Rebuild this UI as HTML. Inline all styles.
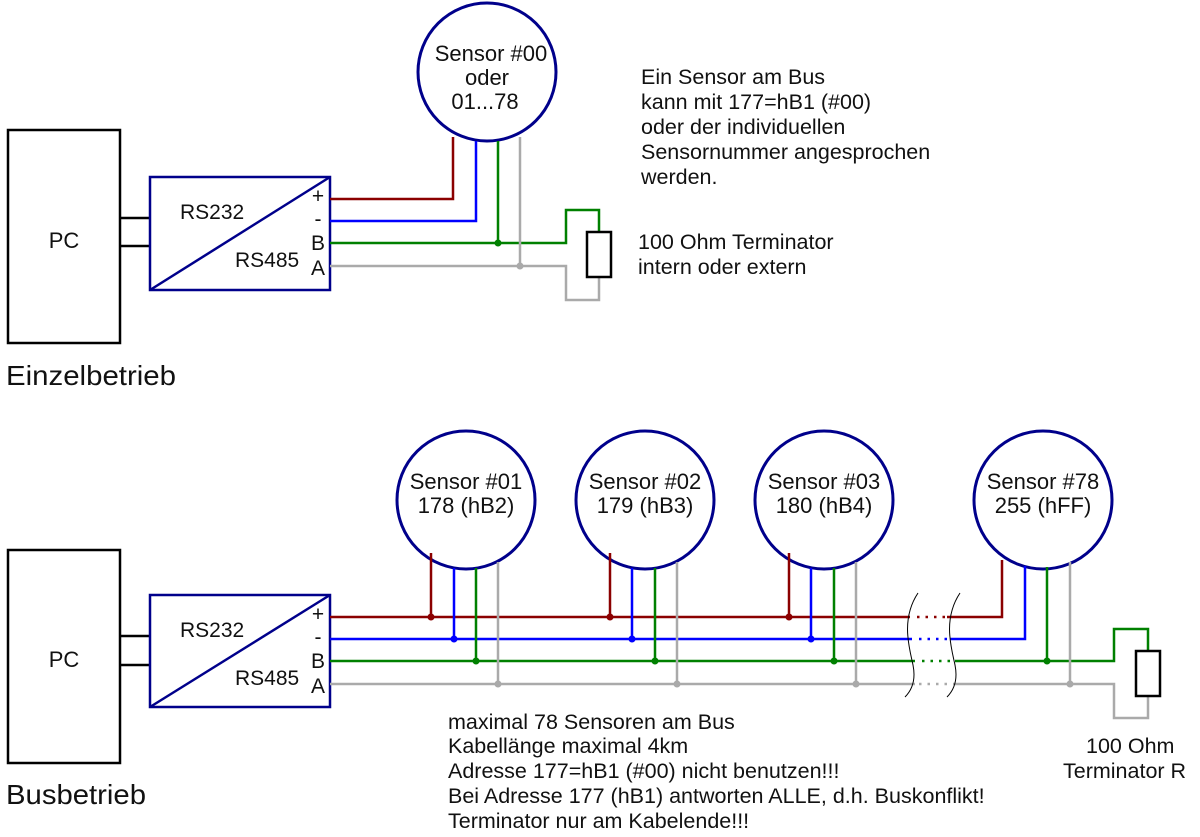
<!DOCTYPE html>
<html><head><meta charset="utf-8"><style>
html,body{margin:0;padding:0;background:#fff;}
svg{display:block;}
text{font-family:"Liberation Sans",sans-serif;fill:#111;}
</style></head><body>
<svg width="1200" height="837" viewBox="0 0 1200 837" xmlns="http://www.w3.org/2000/svg">
<g fill="none" stroke-width="2.5">
<rect x="8" y="130" width="112" height="213" stroke="#000"/>
<line x1="120" y1="218" x2="150" y2="218" stroke="#000"/>
<line x1="120" y1="246" x2="150" y2="246" stroke="#000"/>
<rect x="150" y="177" width="180" height="113" stroke="#00008b"/>
<line x1="150" y1="290" x2="330" y2="177" stroke="#00008b"/>
<circle cx="487" cy="72" r="69" stroke="#00008b" stroke-width="3"/>
<polyline points="330,199 453,199 453,137" stroke="#8b0000"/>
<polyline points="330,221 476,221 476,141" stroke="#0000ff"/>
<polyline points="330,243 566,243 566,210 599,210 599,232" stroke="#008000"/>
<line x1="498" y1="243" x2="498" y2="141" stroke="#008000"/>
<polyline points="330,266 566,266 566,300 599,300 599,277" stroke="#aaa"/>
<line x1="520" y1="266" x2="520" y2="137" stroke="#aaa"/>
<rect x="587" y="232" width="24" height="45" stroke="#000"/>
<rect x="8" y="550" width="112" height="213" stroke="#000"/>
<line x1="120" y1="636" x2="150" y2="636" stroke="#000"/>
<line x1="120" y1="665" x2="150" y2="665" stroke="#000"/>
<rect x="150" y="595" width="180" height="112" stroke="#00008b"/>
<line x1="150" y1="707" x2="330" y2="595" stroke="#00008b"/>
<circle cx="466" cy="500" r="69" stroke="#00008b" stroke-width="3"/>
<circle cx="645" cy="500" r="69" stroke="#00008b" stroke-width="3"/>
<circle cx="824" cy="500" r="69" stroke="#00008b" stroke-width="3"/>
<circle cx="1043" cy="500" r="69" stroke="#00008b" stroke-width="3"/>
<line x1="330" y1="617" x2="910" y2="617" stroke="#8b0000"/>
<line x1="330" y1="639" x2="912" y2="639" stroke="#0000ff"/>
<line x1="330" y1="661" x2="915" y2="661" stroke="#008000"/>
<line x1="330" y1="684" x2="915" y2="684" stroke="#aaa"/>
<line x1="917" y1="617" x2="945" y2="617" stroke="#8b0000" stroke-dasharray="2.5 6"/>
<line x1="919" y1="639" x2="947" y2="639" stroke="#0000ff" stroke-dasharray="2.5 6"/>
<line x1="922" y1="661" x2="950" y2="661" stroke="#008000" stroke-dasharray="2.5 6"/>
<line x1="919" y1="684" x2="950" y2="684" stroke="#aaa" stroke-dasharray="2.5 6"/>
<polyline points="947,617 1002,617 1002,560" stroke="#8b0000"/>
<polyline points="950,639 1025,639 1025,566" stroke="#0000ff"/>
<polyline points="955,661 1114,661 1114,629 1148,629 1148,651" stroke="#008000"/>
<line x1="1047" y1="661" x2="1047" y2="567" stroke="#008000"/>
<polyline points="953,684 1114,684 1114,718 1148,718 1148,696" stroke="#aaa"/>
<line x1="1070" y1="684" x2="1070" y2="562" stroke="#aaa"/>
<rect x="1136" y="651" width="24" height="45" stroke="#000"/>
<line x1="431" y1="617" x2="431" y2="553" stroke="#8b0000"/>
<line x1="454" y1="639" x2="454" y2="568" stroke="#0000ff"/>
<line x1="476" y1="661" x2="476" y2="568" stroke="#008000"/>
<line x1="498" y1="684" x2="498" y2="562" stroke="#aaa"/>
<line x1="610" y1="617" x2="610" y2="553" stroke="#8b0000"/>
<line x1="632" y1="639" x2="632" y2="568" stroke="#0000ff"/>
<line x1="655" y1="661" x2="655" y2="568" stroke="#008000"/>
<line x1="677" y1="684" x2="677" y2="562" stroke="#aaa"/>
<line x1="789" y1="617" x2="789" y2="553" stroke="#8b0000"/>
<line x1="811" y1="639" x2="811" y2="568" stroke="#0000ff"/>
<line x1="834" y1="661" x2="834" y2="568" stroke="#008000"/>
<line x1="856" y1="684" x2="856" y2="562" stroke="#aaa"/>
<path d="M918,593 C900,620 910,650 913,665 C916,680 912,690 905,697" stroke="#000" stroke-width="1"/>
<path d="M960,593 C942,620 952,650 955,665 C958,680 954,690 947,697" stroke="#000" stroke-width="1"/>
</g>
<g>
<circle cx="498" cy="243" r="3.5" fill="#008000"/>
<circle cx="520" cy="266" r="3.5" fill="#aaa"/>
<circle cx="431" cy="617" r="3.5" fill="#8b0000"/>
<circle cx="454" cy="639" r="3.5" fill="#0000ff"/>
<circle cx="476" cy="661" r="3.5" fill="#008000"/>
<circle cx="498" cy="684" r="3.5" fill="#aaa"/>
<circle cx="610" cy="617" r="3.5" fill="#8b0000"/>
<circle cx="632" cy="639" r="3.5" fill="#0000ff"/>
<circle cx="655" cy="661" r="3.5" fill="#008000"/>
<circle cx="677" cy="684" r="3.5" fill="#aaa"/>
<circle cx="789" cy="617" r="3.5" fill="#8b0000"/>
<circle cx="811" cy="639" r="3.5" fill="#0000ff"/>
<circle cx="834" cy="661" r="3.5" fill="#008000"/>
<circle cx="856" cy="684" r="3.5" fill="#aaa"/>
<circle cx="1047" cy="661" r="3.5" fill="#008000"/>
<circle cx="1070" cy="684" r="3.5" fill="#aaa"/>
</g>
<text x="64" y="248" font-size="22" text-anchor="middle">PC</text>
<text x="180" y="219" font-size="21">RS232</text>
<text x="235" y="267" font-size="21">RS485</text>
<g font-size="21" text-anchor="middle">
<text x="318" y="203">+</text><text x="318" y="226">-</text><text x="318" y="250">B</text><text x="318" y="275">A</text>
</g>
<g font-size="22" text-anchor="middle">
<text x="491" y="61">Sensor #00</text>
<text x="487" y="85">oder</text>
<text x="485" y="109">01...78</text>
</g>
<g font-size="21.5">
<text x="641" y="84">Ein Sensor am Bus</text>
<text x="641" y="109">kann mit 177=hB1 (#00)</text>
<text x="641" y="134">oder der individuellen</text>
<text x="641" y="159">Sensornummer angesprochen</text>
<text x="641" y="184">werden.</text>
<text x="638" y="249">100 Ohm Terminator</text>
<text x="638" y="274">intern oder extern</text>
</g>
<text x="6" y="385" font-size="28" textLength="170" lengthAdjust="spacingAndGlyphs">Einzelbetrieb</text>
<text x="64" y="667" font-size="22" text-anchor="middle">PC</text>
<text x="180" y="637" font-size="21">RS232</text>
<text x="235" y="685" font-size="21">RS485</text>
<g font-size="21" text-anchor="middle">
<text x="318" y="621">+</text><text x="318" y="644">-</text><text x="318" y="668">B</text><text x="318" y="693">A</text>
</g>
<g font-size="22" text-anchor="middle">
<text x="466" y="489">Sensor #01</text><text x="466" y="513">178 (hB2)</text>
<text x="645" y="489">Sensor #02</text><text x="645" y="513">179 (hB3)</text>
<text x="824" y="489">Sensor #03</text><text x="824" y="513">180 (hB4)</text>
<text x="1043" y="489">Sensor #78</text><text x="1043" y="513">255 (hFF)</text>
</g>
<g font-size="21.5">
<text x="448" y="729">maximal 78 Sensoren am Bus</text>
<text x="448" y="753">Kabellänge maximal 4km</text>
<text x="448" y="778">Adresse 177=hB1 (#00) nicht benutzen!!!</text>
<text x="448" y="803">Bei Adresse 177 (hB1) antworten ALLE, d.h. Buskonflikt!</text>
<text x="448" y="828">Terminator nur am Kabelende!!!</text>
<text x="1086" y="753">100 Ohm</text>
<text x="1063" y="778">Terminator R</text>
</g>
<text x="6" y="804" font-size="28" textLength="140" lengthAdjust="spacingAndGlyphs">Busbetrieb</text>
</svg>
</body></html>
